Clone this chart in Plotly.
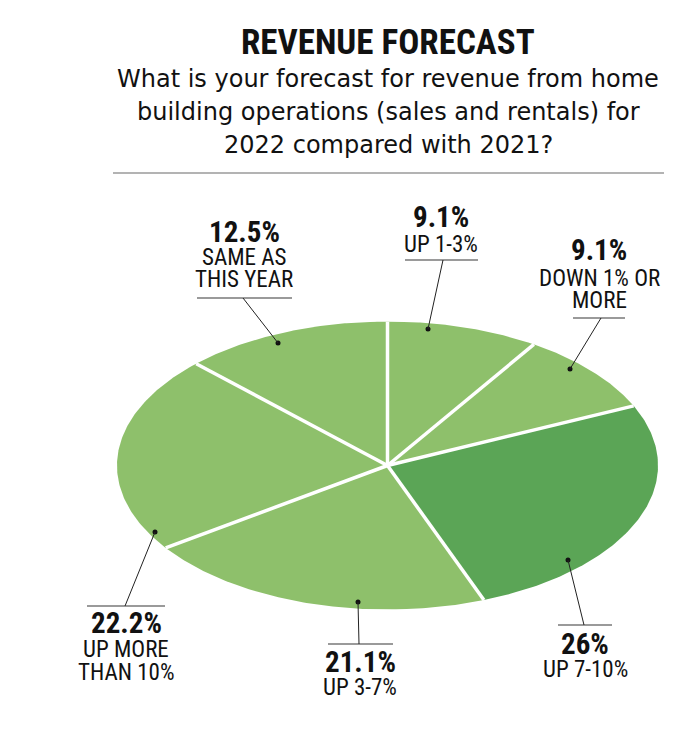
import numpy as np
import plotly.graph_objects as go

# ---- data (clockwise from 12 o'clock) ----
categories = ["UP 1-3%", "DOWN 1% OR MORE", "UP 7-10%", "UP 3-7%",
              "UP MORE THAN 10%", "SAME AS THIS YEAR"]
values = [9.1, 9.1, 26.0, 21.1, 22.2, 12.5]
pct_labels = ["9.1%", "9.1%", "26%", "21.1%", "22.2%", "12.5%"]
label_lines = [["UP 1-3%"], ["DOWN 1% OR", "MORE"], ["UP 7-10%"], ["UP 3-7%"],
               ["UP MORE", "THAN 10%"], ["SAME AS", "THIS YEAR"]]
highlight = "UP 7-10%"

W, H = 700, 732
LIGHT = "#8EC06B"
DARK = "#5BA556"
NARROW = "Roboto Condensed, DejaVu Sans Condensed, sans-serif"
SUBFONT = "DejaVu Sans, sans-serif"

# ellipse placement (pixels)
cx, cy, ra, rb = 387.5, 465.5, 270.5, 144.0

fig = go.Figure()

total = sum(values)
cum = np.concatenate([[0], np.cumsum(values)]) / total
angles = np.deg2rad(90 - 360 * cum)

for i, cat in enumerate(categories):
    t = np.linspace(angles[i], angles[i + 1], 120)
    xs = np.concatenate([[0], np.cos(t), [0]])
    ys = np.concatenate([[0], np.sin(t), [0]])
    fig.add_trace(go.Scatter(
        x=xs, y=ys, fill="toself", mode="lines",
        line=dict(width=0, color=DARK if cat == highlight else LIGHT),
        fillcolor=DARK if cat == highlight else LIGHT,
        hoverinfo="skip", showlegend=False, xaxis="x", yaxis="y"))

# white separators
for a in angles[:-1]:
    fig.add_trace(go.Scatter(
        x=[0, np.cos(a)], y=[0, np.sin(a)], mode="lines",
        line=dict(color="white", width=3.5),
        hoverinfo="skip", showlegend=False, xaxis="x", yaxis="y"))

# ---- label layout (pixel positions) ----
label_pos = {
    "UP 1-3%": dict(x=441, py=217, ly=[244], rule=(405, 478, 260), lead=(443, 260, 428, 329)),
    "DOWN 1% OR MORE": dict(x=599, py=250, ly=[278, 300], rule=(573, 625, 318), lead=(601, 318, 570, 369)),
    "UP 7-10%": dict(x=585, py=644, ly=[669], rule=(558, 612, 625), lead=(584, 625, 568, 560)),
    "UP 3-7%": dict(x=360, py=662, ly=[687], rule=(328, 393, 644), lead=(359, 644, 358, 602)),
    "UP MORE THAN 10%": dict(x=126, py=623, ly=[649, 672], rule=(87, 165, 606), lead=(125, 606, 155, 532)),
    "SAME AS THIS YEAR": dict(x=244, py=232, ly=[257, 279], rule=(197, 292, 298), lead=(243, 298, 278, 343)),
}

annotations = []
shapes = []
dots_x, dots_y = [], []
for i, cat in enumerate(categories):
    p = label_pos[cat]
    annotations.append(dict(x=p["x"], y=p["py"], xref="x2", yref="y2",
                            text="<b>" + pct_labels[i] + "</b>", showarrow=False,
                            font=dict(family=NARROW, size=29, color="#111"),
                            xanchor="center", yanchor="middle", borderpad=0))
    for line, ly in zip(label_lines[i], p["ly"]):
        annotations.append(dict(x=p["x"], y=ly, xref="x2", yref="y2",
                                text=line, showarrow=False,
                                font=dict(family=NARROW, size=23, color="#111"),
                                xanchor="center", yanchor="middle", borderpad=0))
    x0, x1, ry = p["rule"]
    shapes.append(dict(type="line", xref="x2", yref="y2", x0=x0, x1=x1, y0=ry, y1=ry,
                       line=dict(color="#9a9a9a", width=2)))
    lx0, ly0, lx1, ly1 = p["lead"]
    shapes.append(dict(type="line", xref="x2", yref="y2", x0=lx0, y0=ly0, x1=lx1, y1=ly1,
                       line=dict(color="#222", width=1)))
    dots_x.append(lx1)
    dots_y.append(ly1)

fig.add_trace(go.Scatter(x=dots_x, y=dots_y, mode="markers",
                         marker=dict(color="#111", size=5),
                         hoverinfo="skip", showlegend=False, xaxis="x2", yaxis="y2"))

# title and subtitle
annotations.append(dict(x=388, y=42, xref="x2", yref="y2", text="<b>REVENUE FORECAST</b>",
                        showarrow=False, font=dict(family=NARROW, size=35, color="#111"),
                        xanchor="center", yanchor="middle", borderpad=0))
sub = ["What is your forecast for revenue from home",
       "building operations (sales and rentals) for",
       "2022 compared with 2021?"]
for s, y in zip(sub, [79, 112, 145]):
    annotations.append(dict(x=388, y=y, xref="x2", yref="y2", text=s, showarrow=False,
                            font=dict(family=SUBFONT, size=24, color="#111"),
                            xanchor="center", yanchor="middle", borderpad=0))
shapes.append(dict(type="line", xref="x2", yref="y2", x0=113, x1=664, y0=173, y1=173,
                   line=dict(color="#9a9a9a", width=1.5)))

fig.update_layout(
    width=W, height=H, margin=dict(l=0, r=0, t=0, b=0),
    paper_bgcolor="white", plot_bgcolor="rgba(0,0,0,0)",
    xaxis=dict(domain=[(cx - ra) / W, (cx + ra) / W], range=[-1, 1], visible=False, fixedrange=True),
    yaxis=dict(domain=[1 - (cy + rb) / H, 1 - (cy - rb) / H], range=[-1, 1], visible=False, fixedrange=True),
    xaxis2=dict(domain=[0, 1], range=[0, W], visible=False, anchor="y2", fixedrange=True),
    yaxis2=dict(domain=[0, 1], range=[H, 0], visible=False, anchor="x2", fixedrange=True),
    annotations=annotations, shapes=shapes, showlegend=False,
)

fig.write_html("out.html", config={"displayModeBar": False},
               post_script="document.body.style.margin='0';")
